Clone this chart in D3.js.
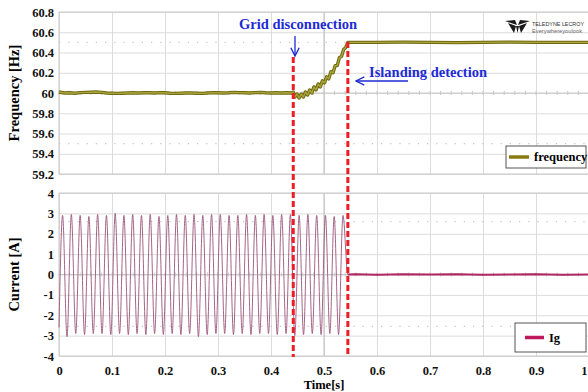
<!DOCTYPE html>
<html>
<head>
<meta charset="utf-8">
<script src="https://cdn.jsdelivr.net/npm/d3@7"></script>
<style>
  body { margin: 0; background: #fff; }
  .grid line { stroke: #dcdcdc; stroke-width: 1; }
  .grid path { display: none; }
  .lab path, .lab line { display: none; }
</style>
</head>
<body>
<svg width="588" height="392"></svg>
<script>
// ticks
var xTicks = [0, 0.1, 0.2, 0.3, 0.4, 0.5, 0.6, 0.7, 0.8, 0.9, 1]
var freqTicks = [59.2, 59.4, 59.6, 59.8, 60, 60.2, 60.4, 60.6, 60.8]
var currTicks = [-4, -3, -2, -1, 0, 1, 2, 3, 4]

// frequency trace (s, Hz)
var freqT = [0, 0.01, 0.02, 0.03, 0.04, 0.05, 0.06, 0.07, 0.08, 0.09, 0.10, 0.11, 0.12, 0.13, 0.14, 0.15,
  0.16, 0.17, 0.18, 0.19, 0.20, 0.21, 0.22, 0.23, 0.24, 0.25, 0.26, 0.27, 0.28, 0.29, 0.30, 0.31,
  0.32, 0.33, 0.34, 0.35, 0.36, 0.37, 0.38, 0.39, 0.40, 0.41, 0.42, 0.43, 0.440,
  0.442, 0.445, 0.449, 0.453, 0.457, 0.461, 0.465, 0.469, 0.473, 0.477, 0.481, 0.485, 0.489,
  0.493, 0.497, 0.501, 0.505, 0.509, 0.513, 0.517, 0.521, 0.525, 0.529, 0.533, 0.537, 0.541, 0.545,
  0.60, 0.65, 0.70, 0.75, 0.80, 0.85, 0.90, 0.95, 1.0]
var freqV = [60.01, 60.0, 60.002, 59.998, 60.004, 60.006, 60.008, 60.01, 60.006, 60.0, 59.998, 59.996, 59.998, 60.0, 60.002, 60.0,
  60.003, 60.002, 60.0, 60.004, 60.002, 59.998, 59.996, 59.998, 60.0, 60.0, 59.998, 59.996, 60.0, 60.004, 60.002, 60.0,
  60.002, 60.006, 60.004, 60.002, 60.0, 60.004, 60.006, 60.002, 60.0, 60.002, 60.0, 60.002, 60.0,
  60.01, 59.96, 59.99, 59.95, 59.99, 59.96, 60.01, 59.98, 60.03, 60.0, 60.06, 60.03, 60.09,
  60.06, 60.12, 60.1, 60.16, 60.14, 60.21, 60.2, 60.27, 60.27, 60.35, 60.36, 60.43, 60.45, 60.5,
  60.5, 60.502, 60.5, 60.498, 60.5, 60.502, 60.5, 60.5, 60.5]

// grid current Ig: start, alternating peaks / troughs, then zero after trip (s, A)
var currT = [0, 0.0068, 0.0151, 0.0233, 0.0316, 0.0399, 0.0482, 0.0564, 0.0647, 0.0729, 0.0812,
  0.0895, 0.0978, 0.1060, 0.1143, 0.1225, 0.1308, 0.1390, 0.1473, 0.1556, 0.1639, 0.1721, 0.1804,
  0.1886, 0.1969, 0.2052, 0.2135, 0.2217, 0.2300, 0.2382, 0.2465, 0.2548, 0.2631, 0.2713, 0.2796,
  0.2878, 0.2961, 0.3043, 0.3126, 0.3209, 0.3292, 0.3374, 0.3457, 0.3539, 0.3622, 0.3705, 0.3788,
  0.3870, 0.3953, 0.4035, 0.4118, 0.4201, 0.4284, 0.4366, 0.4449, 0.4531, 0.4614, 0.4696, 0.4779,
  0.4862, 0.4945, 0.5027, 0.5110, 0.5192, 0.5275, 0.5358, 0.5450,
  0.56, 0.60, 0.65, 0.70, 0.75, 0.80, 0.85, 0.90, 0.95, 1.0]
var currV = [-2.6, 2.9, -3.05, 2.95, -2.9, 2.9, -2.95, 2.85, -2.9, 2.95, -2.9,
  2.9, -2.95, 3.0, -2.9, 2.9, -2.95, 2.95, -2.9, 2.9, -2.95, 2.95, -2.9,
  2.85, -2.95, 2.9, -2.9, 2.95, -2.95, 2.9, -2.9, 2.95, -3.05, 2.9, -2.95,
  2.95, -2.9, 2.95, -2.9, 2.9, -2.95, 2.9, -2.9, 2.95, -2.95, 2.9, -2.9,
  2.95, -2.9, 2.9, -2.95, 2.95, -2.9, 2.95, -3.0, 2.9, -2.95, 2.95, -2.9,
  2.9, -2.95, 2.9, -2.9, 2.85, -2.95, 2.9, 0.0,
  0.01, -0.01, 0.01, 0.0, 0.01, -0.01, 0.0, 0.01, -0.01, 0.0]

var eventT = [0.442, 0.545]

var SERIF = '"Liberation Serif", "Times New Roman", Times, "DejaVu Serif", serif'

var svg = d3.select('svg')
var x = d3.scaleLinear().domain([0, 1]).range([59, 589])
var yF = d3.scaleLinear().domain([59.2, 60.8]).range([174, 12])
var yI = d3.scaleLinear().domain([-4, 4]).range([356, 193])
var fmt = function(d) { return String(+d.toFixed(1)) }

function styleLab(sel) {
  sel.attr('font-family', null).attr('font-size', null)
  sel.selectAll('text').style('font-family', SERIF).style('font-weight', 'bold')
    .style('font-size', '12.5px').attr('fill', '#111')
}

function panel(y, ticks, dotVals, center) {
  var g = svg.append('g')
  var y0 = y.range()[0], y1 = y.range()[1]
  // grid
  g.append('g').attr('class', 'grid').attr('transform', 'translate(0,' + y0 + ')')
    .call(d3.axisBottom(x).tickValues(xTicks).tickSize(-(y0 - y1)).tickFormat(''))
  g.append('g').attr('class', 'grid').attr('transform', 'translate(' + x(0) + ',0)')
    .call(d3.axisLeft(y).tickValues(ticks).tickSize(-(x(1) - x(0))).tickFormat(''))
  // scope graticule dots
  g.selectAll('line.dot').data(dotVals).enter().append('line')
    .attr('x1', x(0)).attr('x2', x(1))
    .attr('y1', function(d) { return y(d) }).attr('y2', function(d) { return y(d) })
    .attr('stroke', '#c4c4c4').attr('stroke-width', 1.2).attr('stroke-dasharray', '1.2,8')
  // centre crosshair
  g.append('line').attr('x1', x(0.5)).attr('x2', x(0.5)).attr('y1', y1).attr('y2', y0)
    .attr('stroke', '#bdbdbd')
  g.append('line').attr('x1', x(0)).attr('x2', x(1)).attr('y1', y(center)).attr('y2', y(center))
    .attr('stroke', '#c8c8c8')
  g.selectAll('line.tk').data(d3.range(0, 50)).enter().append('line')
    .attr('x1', function(d) { return x(d * 0.02) }).attr('x2', function(d) { return x(d * 0.02) })
    .attr('y1', y(center) - 2).attr('y2', y(center) + 2).attr('stroke', '#c8c8c8')
  // frame
  g.append('rect').attr('x', x(0)).attr('y', y1).attr('width', x(1) - x(0)).attr('height', y0 - y1)
    .attr('fill', 'none').attr('stroke', '#c8c8c8')
  // labels
  g.append('g').attr('class', 'lab').attr('transform', 'translate(' + x(0) + ',0)')
    .call(d3.axisLeft(y).tickValues(ticks).tickSize(0).tickPadding(5).tickFormat(fmt))
    .call(styleLab)
}

panel(yF, freqTicks, [60.5, 59.5], 60)
panel(yI, currTicks, [2.6, -2.55], 0)

// x labels
svg.append('g').attr('class', 'lab').attr('transform', 'translate(0,' + yI.range()[0] + ')')
  .call(d3.axisBottom(x).tickValues(xTicks).tickSize(0).tickPadding(10).tickFormat(fmt))
  .call(styleLab)
  .selectAll('text').filter(function(d) { return d === 1 }).attr('text-anchor', 'end').attr('dx', -2)

// traces
var freqLine = d3.line().x(function(d, i) { return x(freqT[i]) }).y(function(d) { return yF(d) })
svg.append('path').datum(freqV).attr('d', freqLine)
  .attr('fill', 'none').attr('stroke', '#6f6a10').attr('stroke-width', 3.4).attr('stroke-linejoin', 'round')
svg.append('path').datum(freqV).attr('d', freqLine)
  .attr('fill', 'none').attr('stroke', '#aaa43c').attr('stroke-width', 1.4).attr('stroke-linejoin', 'round')

var curLine = d3.line().curve(d3.curveMonotoneX)
  .x(function(d, i) { return x(currT[i]) }).y(function(d) { return yI(d) })
svg.append('path').datum(currV).attr('d', curLine)
  .attr('fill', 'none').attr('stroke', '#9a5478').attr('stroke-width', 0.9)
svg.append('path').datum(currV.slice(66)).attr('d', d3.line()
    .x(function(d, i) { return x(currT[i + 66]) }).y(function(d) { return yI(d) }))
  .attr('fill', 'none').attr('stroke', '#b0285f').attr('stroke-width', 2)

// event markers
svg.selectAll('line.ev').data(eventT).enter().append('line')
  .attr('x1', function(d) { return x(d) }).attr('x2', function(d) { return x(d) })
  .attr('y1', function(d, i) { return i === 0 ? 57 : 42 }).attr('y2', 357)
  .attr('stroke', '#ee1c25').attr('stroke-width', 3).attr('stroke-dasharray', '6,3')

// annotations
svg.append('defs').append('marker').attr('id', 'ah').attr('viewBox', '0 0 10 10')
  .attr('refX', 9).attr('refY', 5).attr('markerWidth', 8).attr('markerHeight', 8).attr('orient', 'auto')
  .append('path').attr('d', 'M1,1 L9,5 L1,9').attr('fill', 'none').attr('stroke', '#1d2bd6').attr('stroke-width', 1.3)
svg.append('text').attr('x', 298).attr('y', 29).attr('text-anchor', 'middle')
  .attr('fill', '#1d2bd6').style('font-family', SERIF).style('font-weight', 'bold')
  .style('font-size', '14.5px').text('Grid disconnection')
svg.append('line').attr('x1', 295).attr('x2', 295).attr('y1', 36).attr('y2', 56)
  .attr('stroke', '#1d2bd6').attr('stroke-width', 1.3).attr('marker-end', 'url(#ah)')
svg.append('text').attr('x', 369).attr('y', 77)
  .attr('fill', '#1d2bd6').style('font-family', SERIF).style('font-weight', 'bold')
  .style('font-size', '14.5px').text('Islanding detection')
svg.append('line').attr('x1', 408).attr('x2', 356).attr('y1', 81).attr('y2', 81)
  .attr('stroke', '#1d2bd6').attr('stroke-width', 1.3).attr('marker-end', 'url(#ah)')

// axis titles
svg.append('text').attr('transform', 'translate(19,' + yF(60) + ') rotate(-90)')
  .attr('text-anchor', 'middle').style('font-family', SERIF).style('font-weight', 'bold')
  .style('font-size', '14.5px').text('Frequency [Hz]')
svg.append('text').attr('transform', 'translate(19,' + yI(0) + ') rotate(-90)')
  .attr('text-anchor', 'middle').style('font-family', SERIF).style('font-weight', 'bold')
  .style('font-size', '14.5px').text('Current [A]')
svg.append('text').attr('x', x(0.5)).attr('y', 389).attr('text-anchor', 'middle')
  .style('font-family', SERIF).style('font-weight', 'bold').style('font-size', '12.5px').text('Time[s]')

// legends
function legend(x0, y0, w, h, color, label, lx) {
  var g = svg.append('g')
  g.append('rect').attr('x', x0).attr('y', y0).attr('width', w).attr('height', h)
    .attr('fill', '#fff').attr('stroke', '#555')
  g.append('line').attr('x1', x0 + lx[0]).attr('x2', x0 + lx[1]).attr('y1', y0 + h / 2).attr('y2', y0 + h / 2)
    .attr('stroke', color).attr('stroke-width', 3.5)
  g.append('text').attr('x', x0 + lx[1] + 5).attr('y', y0 + h / 2 + 4)
    .style('font-family', SERIF).style('font-weight', 'bold').style('font-size', '12.5px').text(label)
}
legend(506, 146, 80, 22, '#8a7a12', 'frequency', [3, 23])
legend(515, 323, 71, 29, '#c0185c', 'Ig', [10, 29])

// scope logo
var logo = svg.append('g').attr('transform', 'translate(505,19)')
logo.append('path').attr('d', 'M0,2 L10,1 L12,6 Z M25,2 L15,1 L13,6 Z M3,4 L11,7 L9,14 Z M22,4 L14,7 L16,14 Z M11,7 L14,7 L12.5,14 Z')
  .attr('fill', '#1a1a1a')
logo.append('text').attr('x', 27).attr('y', 7).style('font-family', '"Liberation Sans", sans-serif')
  .style('font-size', '5.6px').attr('fill', '#333').attr('textLength', 52).attr('lengthAdjust', 'spacingAndGlyphs')
  .text('TELEDYNE LECROY')
logo.append('text').attr('x', 27).attr('y', 13.5).style('font-family', '"Liberation Sans", sans-serif')
  .style('font-size', '5.4px').attr('fill', '#666').attr('textLength', 50).attr('lengthAdjust', 'spacingAndGlyphs')
  .text('Everywhereyoulook')
</script>
</body>
</html>
